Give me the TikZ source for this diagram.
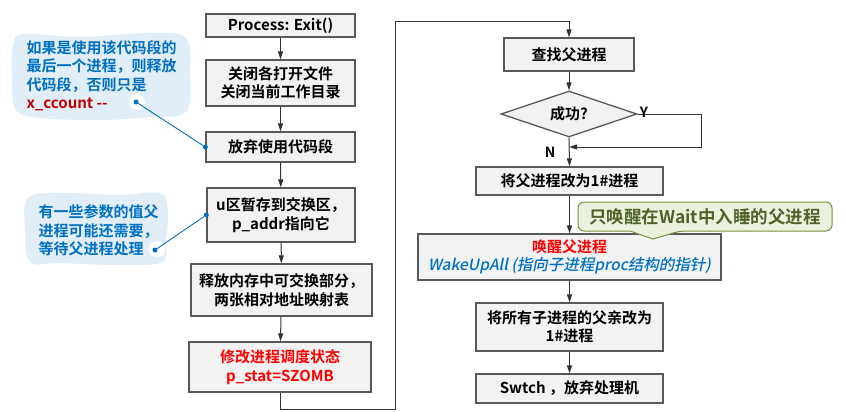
\documentclass[tikz,border=0pt]{standalone}
\usepackage{fontspec}
\setmainfont{Noto Sans CJK SC}[BoldFont={Noto Sans CJK SC Bold}]
\newfontfamily\slantfont{Noto Sans CJK SC Medium}[FakeSlant=0.2]
\usetikzlibrary{shapes.geometric,arrows.meta}
\definecolor{boxfill}{RGB}{242,242,242}
\definecolor{boxline}{RGB}{89,89,89}
\definecolor{noteblue}{RGB}{0,112,192}
\definecolor{notefill}{RGB}{226,238,247}
\definecolor{darkred}{RGB}{192,0,0}
\definecolor{tipfill}{RGB}{235,241,222}
\definecolor{tipline}{RGB}{118,146,60}
\definecolor{tiptext}{RGB}{79,98,40}
\begin{document}
\begin{tikzpicture}[x=1pt,y=-1pt,
    box/.style={draw=boxline, line width=1.3pt, fill=boxfill, align=center, inner sep=0pt,
      font=\bfseries\fontsize{15}{18.5}\selectfont},
    flow/.style={draw=black!80, line width=1pt, -{Triangle[length=8pt,width=5pt]}},
    notetext/.style={align=left, anchor=west, text=noteblue, font=\bfseries\fontsize{15}{18.5}\selectfont},
    dot/.style={circle, fill=noteblue, inner sep=0pt, minimum size=5pt},
    hole/.style={circle, fill=white, inner sep=0pt, minimum size=16pt}]

    \useasboundingbox (0,0) rectangle (846,412);

    % blue notes on the left
    \fill[notefill] plot[smooth cycle, tension=0.6] coordinates {(13,45) (24,34) (80,37) (150,33) (186,38)
      (190,75) (186,112) (150,117) (100,120) (40,118) (16,110) (12,80)};
    \fill[notefill] plot[smooth cycle, tension=0.6] coordinates {(28,198) (60,193) (120,195) (160,193)
      (168,210) (166,240) (162,262) (120,265) (60,263) (30,262) (25,230)};
    \node[notetext] (note1) at (23,75.5) {如果是使用该代码段的\\最后一个进程，则释放\\代码段，否则只是\\
      \textcolor{darkred}{x\_ccount -{}-}};
    \node[notetext] (note2) at (35,230.5) {有一些参数的值父\\进程可能还需要，\\等待父进程处理};

    % left column
    \node[box, minimum width=149pt, minimum height=23pt] (exit) at (280.5,25.5) {Process: Exit()};
    \node[box, minimum width=149pt, minimum height=46pt] (close) at (280.5,83) {关闭各打开文件\\关闭当前工作目录};
    \node[box, minimum width=149pt, minimum height=30pt] (giveup) at (280.5,147) {放弃使用代码段};
    \node[box, minimum width=148pt, minimum height=54pt] (uarea) at (281,215) {u区暂存到交换区，\\p\_addr指向它};
    \node[box, minimum width=181pt, minimum height=52pt] (release) at (281.5,290) {释放内存中可交换部分，\\两张相对地址映射表};
    \node[box, minimum width=182pt, minimum height=50pt, text=red] (state) at (280,367) {修改进程调度状态\\p\_stat=SZOMB};

    % right column
    \node[box, minimum width=130pt, minimum height=33pt] (find) at (569,54.5) {查找父进程};
    \node[box, diamond, aspect=3, minimum width=136pt, minimum height=46pt] (ok) at (569,114) {成功?};
    \node[box, minimum width=187pt, minimum height=28pt] (init) at (569.5,181) {将父进程改为1\#进程};
    \node[box, minimum width=303pt, minimum height=46pt] (wake) at (569.5,257)
      {\textcolor{red}{唤醒父进程}\\{\slantfont\mdseries\fontsize{15.5}{18.5}\selectfont\textcolor{noteblue}{WakeUpAll (指向子进程proc结构的指针)}}};
    \node[box, minimum width=187pt, minimum height=48pt] (child) at (569.5,327) {将所有子进程的父亲改为\\1\#进程};
    \node[box, minimum width=187pt, minimum height=29pt] (swtch) at (569.5,388.5) {Swtch ，放弃处理机};

    % green tip
    \draw[draw=tipline, line width=1pt, fill=tipfill, rounded corners=6pt]
      (578,216) |- (832,202) |- (680,231) [sharp corners] -- (653,239) -- (630,231)
      [rounded corners=6pt] -| (578,216) -- cycle;
    \node[text=tiptext, font=\bfseries\fontsize{17.5}{19}\selectfont] (tip) at (705,216.5) {只唤醒在Wait中入睡的父进程};

    % flow
    \draw[flow] (exit) -- (close);
    \draw[flow] (close) -- (giveup);
    \draw[flow] (giveup) -- (uarea);
    \draw[flow] (uarea) -- (release);
    \draw[flow] (release) -- (state);
    \coordinate (low) at (395,409);
    \coordinate (high) at (569,22);
    \draw[flow] (state.south) |- (low) |- (high) -- (find.north);
    \draw[flow] (find) -- (ok);
    \coordinate (yturn) at (701,147);
    \draw[flow] (ok.east) -| (yturn) -- (ok.south |- yturn);
    \draw[flow] (ok.south) -- (init.north);
    \node[font=\bfseries\fontsize{14}{16}\selectfont] (yes) at (644,112) {Y};
    \node[font=\bfseries\fontsize{14}{16}\selectfont] (no) at (550,152) {N};
    \draw[flow] (init) -- (wake);
    \draw[flow] (wake) -- (child);
    \draw[flow] (child) -- (swtch);

    % note pointers
    \node[hole] (h1) at (137,102) {};
    \node[dot] (d1) at (136,102) {};
    \node[dot] (e1) at (giveup.west) {};
    \draw[noteblue, line width=0.9pt] (d1) -- (e1);
    \node[hole] (h2) at (157,249) {};
    \node[dot] (d2) at (155,250) {};
    \node[dot] (e2) at (uarea.west) {};
    \draw[noteblue, line width=0.9pt] (d2) -- (e2);

\end{tikzpicture}
\end{document}
